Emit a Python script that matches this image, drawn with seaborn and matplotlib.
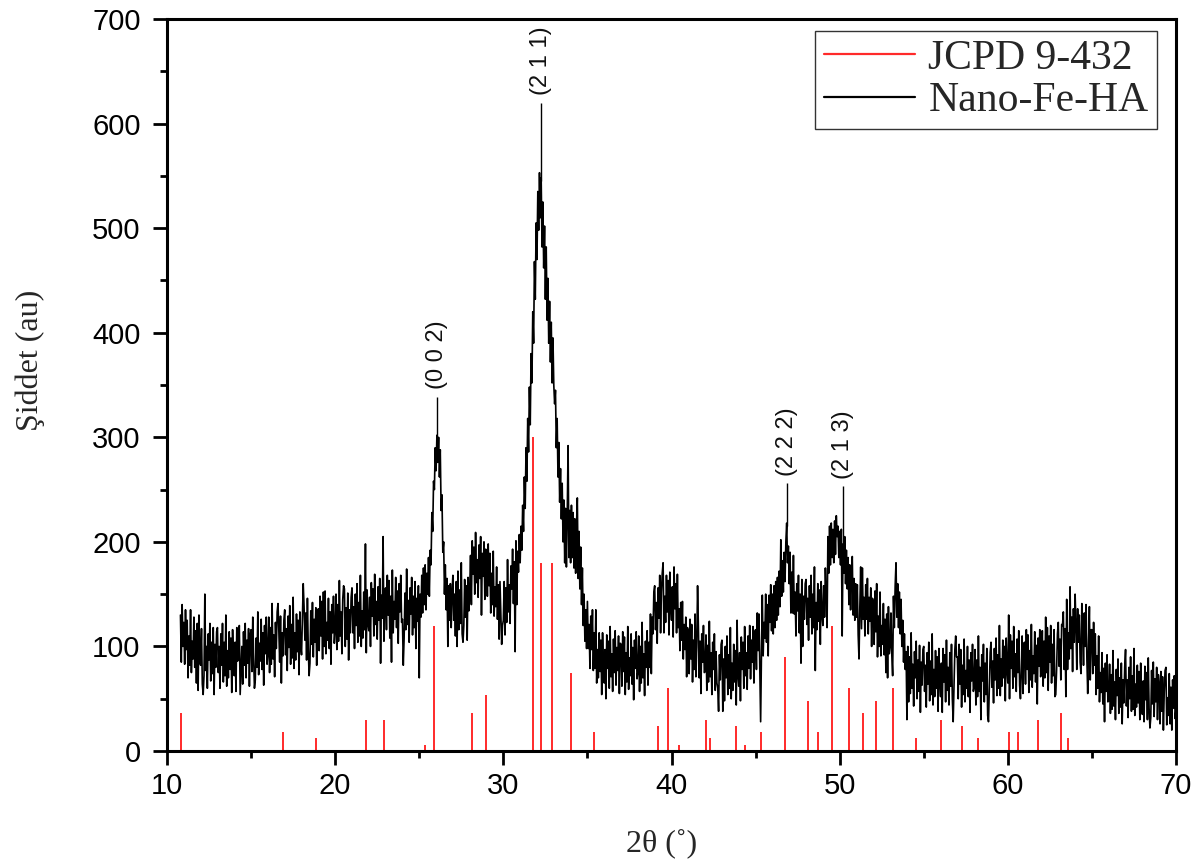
import numpy as np
import pandas as pd
import matplotlib
matplotlib.use("Agg")
import matplotlib.pyplot as plt
import seaborn as sns
from matplotlib.ticker import MultipleLocator
from matplotlib.lines import Line2D

# ---------------- data ----------------
# JCPD 9-432 reference reflections (2theta, stick height in au)
jcpd_two_theta = [10.82, 16.87, 18.84, 21.86, 22.93, 25.33, 25.87, 28.13, 28.97,
                  31.77, 32.22, 32.87, 34.02, 35.42, 39.18, 39.82, 40.45, 42.07,
                  42.29, 43.85, 44.39, 45.34, 46.74, 48.13, 48.69, 49.55, 50.57,
                  51.36, 52.19, 53.19, 54.51, 56.00, 57.27, 58.23, 60.06, 60.62,
                  61.77, 63.19, 63.58]
jcpd_intensity = [36, 18, 12, 30, 30, 6, 120, 36, 54,
                  300, 180, 180, 75, 18, 24, 60, 6, 30,
                  12, 24, 6, 18, 90, 48, 18, 120, 60,
                  36, 48, 60, 12, 30, 24, 12, 18, 18,
                  30, 36, 12]

# Nano-Fe-HA measured pattern, sampled every 0.05 deg, one row per degree
trace_step = 0.05
trace_10_20_start = 10.80
trace_10_20 = [
    130, 85, 140, 100,
    123, 83, 135, 97, 125, 70, 110, 82, 135, 75, 105, 88, 128, 80, 115, 65, 122, 58, 130, 85,
    82, 117, 64, 54, 72, 150, 77, 100, 60, 112, 87, 122, 67, 104, 74, 118, 54, 102, 80, 114,
    118, 75, 100, 60, 112, 82, 122, 66, 104, 72, 130, 62, 96, 70, 114, 78, 108, 56, 116, 84,
    72, 104, 57, 118, 86, 112, 120, 54, 78, 100, 64, 114, 82, 122, 70, 106, 84, 117, 62, 110,
    116, 76, 128, 90, 60, 68, 108, 80, 133, 73, 103, 86, 126, 78, 113, 63, 120, 93, 128, 83,
    93, 128, 75, 118, 83, 141, 88, 111, 71, 123, 98, 133, 141, 115, 85, 129, 65, 113, 91, 125,
    135, 92, 117, 77, 129, 99, 139, 83, 121, 89, 147, 79, 113, 87, 131, 95, 125, 73, 133, 101,
    92, 124, 160, 138, 106, 132, 87, 146, 98, 72, 84, 134, 102, 142, 90, 126, 104, 137, 82, 130,
    136, 96, 148, 110, 143, 88, 152, 100, 153, 93, 123, 106, 146, 98, 133, 83, 140, 113, 148, 103,
]
trace_20_30_start = 20.00
trace_20_30 = [
    115, 150, 97, 140, 105, 163, 110, 133, 93, 145, 158, 155, 100, 137, 107, 151, 87, 135, 113, 147,
    156, 113, 138, 98, 150, 120, 160, 104, 142, 110, 168, 100, 134, 108, 152, 116, 198, 94, 154, 122,
    115, 147, 100, 161, 129, 155, 110, 169, 121, 143, 107, 157, 125, 165, 84, 149, 127, 205, 105, 153,
    156, 116, 168, 130, 163, 108, 148, 85, 173, 113, 143, 126, 166, 118, 153, 103, 160, 133, 168, 123,
    126, 82, 108, 151, 116, 174, 121, 144, 104, 156, 131, 166, 111, 148, 118, 162, 98, 146, 124, 158,
    70, 150, 128, 168, 132, 175, 140, 178, 135, 170, 150, 185, 148, 192, 178, 228, 210, 258, 250, 290,
    268, 302, 276, 300, 262, 288, 230, 245, 190, 200, 150, 178, 135, 165, 100, 158, 125, 160, 118, 152,
    168, 125, 150, 110, 162, 100, 172, 116, 154, 122, 180, 112, 104, 120, 164, 128, 158, 106, 166, 134,
    155, 187, 140, 201, 169, 195, 150, 209, 161, 183, 147, 197, 165, 205, 130, 189, 167, 200, 145, 193,
    190, 148, 198, 158, 189, 132, 170, 140, 191, 129, 157, 138, 176, 126, 159, 107, 162, 133, 102, 120,
]
trace_30_40_start = 30.00
trace_30_40 = [
    125, 162, 111, 156, 123, 183, 133, 159, 122, 177, 155, 193, 141, 181, 95, 201, 140, 191, 171, 207,
    180, 215, 192, 235, 210, 262, 232, 290, 258, 318, 286, 348, 312, 380, 352, 420, 390, 468, 432, 505,
    470, 535, 498, 553, 510, 548, 482, 525, 462, 502, 432, 482, 412, 452, 390, 430, 372, 410, 352, 395,
    350, 332, 345, 290, 318, 262, 295, 238, 270, 222, 256, 200, 240, 180, 232, 176, 225, 292, 185, 230,
    180, 235, 185, 228, 175, 222, 170, 215, 242, 165, 210, 155, 195, 140, 175, 120, 150, 105, 135, 98,
    143, 98, 121, 79, 129, 97, 135, 77, 113, 79, 135, 65, 97, 70, 113, 76, 106, 54, 113, 81,
    65, 97, 50, 111, 79, 105, 60, 119, 71, 93, 57, 107, 75, 115, 63, 99, 77, 110, 55, 103,
    102, 62, 114, 76, 109, 54, 94, 66, 119, 59, 89, 72, 112, 64, 99, 49, 106, 79, 114, 69,
    75, 110, 57, 100, 65, 123, 70, 93, 53, 105, 80, 115, 63, 104, 80, 131, 74, 128, 112, 152,
    158, 116, 142, 103, 156, 127, 168, 113, 152, 170, 180, 113, 148, 123, 168, 133, 163, 111, 171, 139,
]
trace_40_50_start = 40.00
trace_40_50 = [
    125, 157, 109, 176, 136, 160, 113, 169, 118, 136, 96, 142, 106, 143, 88, 121, 97, 128, 71, 118,
    114, 74, 126, 88, 121, 66, 106, 78, 131, 71, 99, 158, 118, 70, 105, 55, 112, 85, 120, 75,
    76, 111, 58, 101, 66, 124, 71, 94, 54, 104, 78, 112, 58, 95, 65, 60, 38, 92, 68, 102,
    106, 38, 88, 48, 100, 70, 110, 54, 92, 60, 118, 50, 84, 58, 102, 66, 96, 44, 125, 72,
    62, 94, 48, 109, 78, 104, 60, 119, 72, 94, 59, 110, 79, 120, 69, 106, 85, 119, 65, 114,
    116, 78, 132, 96, 131, 78, 28, 94, 149, 91, 123, 108, 150, 104, 140, 91, 149, 123, 159, 115,
    150, 112, 158, 118, 162, 125, 166, 130, 172, 138, 202, 148, 182, 152, 190, 162, 200, 218, 180, 196,
    160, 190, 132, 171, 132, 187, 131, 152, 110, 160, 134, 168, 113, 150, 84, 164, 100, 148, 126, 160,
    164, 121, 146, 106, 158, 128, 168, 112, 150, 118, 176, 77, 142, 116, 160, 124, 154, 102, 162, 130,
    120, 158, 128, 175, 150, 118, 205, 170, 215, 178, 218, 185, 212, 180, 220, 188, 225, 205, 215, 185,
]
trace_50_60_start = 50.00
trace_50_60 = [
    210, 178, 212, 110, 198, 170, 205, 160, 192, 155, 185, 140, 178, 135, 170, 186, 130, 165, 125, 160,
    128, 159, 111, 88, 138, 176, 117, 175, 126, 147, 110, 159, 126, 165, 112, 147, 124, 156, 100, 146,
    143, 102, 153, 114, 160, 90, 129, 100, 152, 91, 120, 102, 141, 92, 126, 75, 131, 70, 138, 93,
    100, 132, 92, 72, 148, 118, 158, 180, 128, 160, 118, 152, 112, 145, 100, 125, 85, 112, 78, 95,
    30, 100, 47, 90, 55, 113, 60, 83, 43, 95, 70, 105, 50, 87, 57, 101, 37, 85, 63, 97,
    100, 57, 82, 42, 94, 64, 104, 48, 86, 54, 112, 44, 78, 52, 96, 60, 90, 38, 98, 66,
    52, 84, 37, 98, 66, 92, 47, 106, 58, 80, 44, 94, 62, 102, 50, 28, 64, 97, 110, 90,
    90, 50, 102, 64, 97, 42, 82, 54, 107, 47, 77, 60, 100, 52, 87, 37, 94, 67, 102, 57,
    62, 97, 44, 87, 52, 110, 57, 80, 30, 92, 67, 102, 47, 84, 54, 98, 34, 28, 60, 94,
    104, 61, 86, 46, 98, 68, 108, 53, 92, 60, 120, 53, 88, 62, 106, 70, 100, 48, 108, 78,
]
trace_60_70_start = 60.00
trace_60_70 = [
    65, 130, 50, 111, 79, 105, 60, 119, 71, 93, 57, 107, 75, 115, 63, 50, 77, 110, 55, 103,
    104, 64, 116, 78, 111, 56, 96, 68, 121, 61, 91, 74, 114, 66, 101, 45, 108, 81, 116, 71,
    80, 115, 62, 105, 70, 128, 75, 118, 58, 110, 85, 120, 65, 102, 72, 116, 52, 54, 78, 112,
    123, 81, 107, 68, 121, 120, 133, 78, 117, 52, 145, 78, 113, 88, 157, 98, 128, 76, 136, 104,
    150, 122, 78, 136, 104, 130, 85, 74, 141, 118, 82, 132, 100, 140, 88, 55, 102, 138, 68, 116,
    116, 74, 123, 82, 112, 54, 91, 60, 110, 47, 75, 56, 94, 45, 79, 28, 84, 57, 92, 47,
    48, 83, 36, 73, 40, 96, 43, 66, 30, 78, 53, 88, 36, 70, 42, 84, 26, 68, 46, 80,
    97, 43, 68, 32, 80, 50, 90, 38, 72, 40, 98, 34, 64, 42, 82, 46, 76, 30, 84, 52,
    35, 67, 28, 81, 49, 75, 30, 89, 41, 22, 32, 77, 45, 85, 33, 69, 47, 80, 30, 73,
    64, 26, 76, 38, 71, 20, 56, 77, 80, 25, 51, 34, 74, 26, 61, 20, 68, 41, 72, 31,
    40,
]

# Miller-index annotations
hkl_labels = ["(0 0 2)", "(2 1 1)", "(2 2 2)", "(2 1 3)"]
hkl_two_theta = [26.07, 32.24, 46.88, 50.22]
hkl_line_top = [339, 620, 256, 253]
hkl_line_bottom = [295, 545, 215, 195]

legend_labels = ["JCPD 9-432", "Nano-Fe-HA"]

# ---------------- assemble ----------------
segments = [
    (trace_10_20_start, trace_10_20),
    (trace_20_30_start, trace_20_30),
    (trace_30_40_start, trace_30_40),
    (trace_40_50_start, trace_40_50),
    (trace_50_60_start, trace_50_60),
    (trace_60_70_start, trace_60_70),
]
xs, ys = [], []
for start, vals in segments:
    xs.append(start + trace_step * np.arange(len(vals)))
    ys.append(np.asarray(vals, dtype=float))
df = pd.DataFrame({"two_theta": np.concatenate(xs), "intensity": np.concatenate(ys)})

# ---------------- plot ----------------
sns.set_theme(style="ticks")
plt.rcParams["font.family"] = ["Liberation Sans", "DejaVu Sans"]
serif = ["Liberation Serif", "DejaVu Serif"]

fig = plt.figure(figsize=(12.02, 8.64), dpi=100)
ax = fig.add_axes([0.13894, 0.13079, 0.83943, 0.84722])

ax.vlines(jcpd_two_theta, 0, jcpd_intensity, colors="#ff2a2a", linewidth=1.4, zorder=2)
sns.lineplot(data=df, x="two_theta", y="intensity", color="black", linewidth=1.2,
             estimator=None, sort=False, ax=ax, zorder=3, legend=False)

ax.vlines(hkl_two_theta, hkl_line_bottom, hkl_line_top, colors="black", linewidth=1.0, zorder=4)
for lab, x, top in zip(hkl_labels, hkl_two_theta, hkl_line_top):
    ax.text(x, top + 7, lab, rotation=90, ha="center", va="bottom", fontsize=17,
            color="#111111", family=["Liberation Sans", "DejaVu Sans"])

ax.set_xlim(10, 70)
ax.set_ylim(0, 700)
ax.xaxis.set_major_locator(MultipleLocator(10))
ax.xaxis.set_minor_locator(MultipleLocator(5))
ax.yaxis.set_major_locator(MultipleLocator(100))
ax.yaxis.set_minor_locator(MultipleLocator(50))

for sp in ax.spines.values():
    sp.set_visible(True)
    sp.set_linewidth(2.2)
    sp.set_color("black")

ax.tick_params(which="major", direction="out", length=10, width=2, labelsize=21,
               color="black", labelcolor="black")
ax.tick_params(which="minor", direction="out", length=5, width=2, color="black")
ax.tick_params(axis="y", which="major", pad=9)
ax.tick_params(axis="x", which="major", pad=5)
ax.tick_params(top=False, right=False, which="both")

ax.set_xlabel("2θ (˚)", fontsize=23, family=serif)
ax.set_ylabel("Şiddet (au)", fontsize=23, family=serif)
ax.xaxis.label.set_va("center")
ax.yaxis.label.set_va("center")
ax.xaxis.set_label_coords(0.49, -0.126)
ax.yaxis.set_label_coords(-0.136, 0.534)

handles = [Line2D([], [], color="#ff2a2a", linewidth=1.6),
           Line2D([], [], color="black", linewidth=1.6)]
leg = ax.legend(handles, legend_labels, loc="upper right", bbox_to_anchor=(0.981, 0.984),
                borderaxespad=0, fancybox=False, framealpha=1, edgecolor="#333333",
                prop={"family": serif, "size": 30}, handlelength=2.2, handletextpad=0.31,
                borderpad=0.2, labelspacing=0.1)
leg.get_frame().set_linewidth(1.0)

ax.grid(False)
fig.savefig("out.png", dpi=100)
